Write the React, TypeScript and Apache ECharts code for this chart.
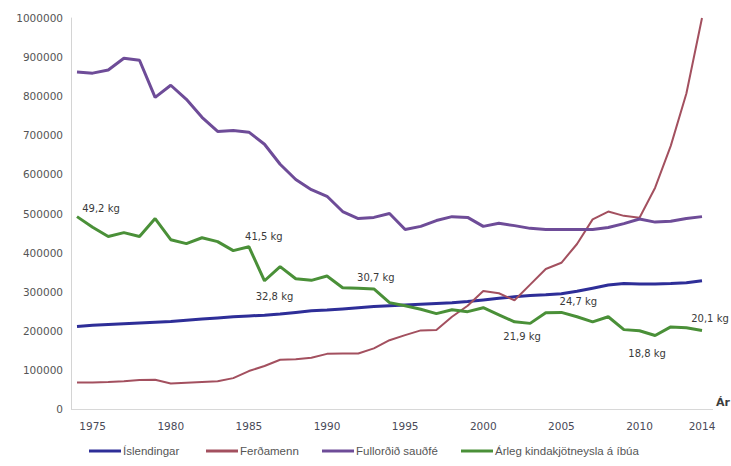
import React, { useEffect, useRef } from "react";
import * as echarts from "echarts";

const years = [
  "1974", "1975", "1976", "1977", "1978", "1979", "1980", "1981", "1982", "1983",
  "1984", "1985", "1986", "1987", "1988", "1989", "1990", "1991", "1992", "1993",
  "1994", "1995", "1996", "1997", "1998", "1999", "2000", "2001", "2002", "2003",
  "2004", "2005", "2006", "2007", "2008", "2009", "2010", "2011", "2012", "2013", "2014",
];

const shownYearLabels = ["1975", "1980", "1985", "1990", "1995", "2000", "2005", "2010", "2014"];

const seriesNames = ["Íslendingar", "Ferðamenn", "Fullorðið sauðfé", "Árleg kindakjötneysla á íbúa"];

const islendingar = [
  211000, 214000, 216000, 218000, 220000, 222000, 224000, 227000, 230000, 233000,
  236000, 238000, 240000, 243000, 247000, 251000, 253000, 256000, 259000, 262000,
  264000, 266000, 268000, 270000, 272000, 275000, 279000, 283000, 287000, 290000,
  292000, 295000, 301000, 309000, 317000, 321000, 320000, 320000, 321000, 323000, 328000,
];

const ferdamenn = [
  68000, 68000, 69000, 71000, 74000, 75000, 65000, 67000, 69000, 71000,
  79000, 97000, 110000, 126000, 127000, 131000, 141000, 142000, 142000, 155000,
  176000, 189000, 201000, 202000, 236000, 264000, 302000, 296000, 278000, 318000,
  358000, 374000, 422000, 485000, 505000, 494000, 489000, 566000, 673000, 807000, 1000000,
];

const saudfe = [
  862000, 859000, 867000, 897000, 892000, 797000, 828000, 792000, 746000, 710000,
  712000, 708000, 677000, 626000, 587000, 561000, 544000, 505000, 487000, 490000,
  500000, 459000, 467000, 482000, 492000, 490000, 467000, 475000, 469000, 462000,
  459000, 459000, 459000, 459000, 464000, 474000, 486000, 478000, 480000, 487000, 492000,
];

const kjotneyslaKg = [
  49.2, 46.5, 44.1, 45.1, 44.1, 48.7, 43.3, 42.3, 43.8, 42.8,
  40.5, 41.5, 32.8, 36.4, 33.3, 32.9, 34.0, 31.0, 30.9, 30.7,
  27.2, 26.4, 25.5, 24.4, 25.4, 24.9, 25.9, 24.1, 22.3, 21.9,
  24.6, 24.7, 23.6, 22.3, 23.6, 20.3, 20.0, 18.8, 21.0, 20.8, 20.1,
];

// kg are drawn on the population axis at 10 000 per kg
const kgScale = 10000;

// which kg points carry a label, and where the label sits relative to the point
const labeledYears = ["1974", "1985", "1986", "1993", "2003", "2005", "2011", "2014"];
const labelOffsets: [number, number][] = [
  [24, -8], [15, -10], [10, 16], [2, -11], [-8, 13], [17, -11], [-8, 18], [8, -12],
];

const colors = ["#2e2e98", "#a3505f", "#6e4c98", "#4a9038"];
const FONT = "DejaVu Sans, sans-serif";
const LEGEND_FONT = "Liberation Sans, Arial, sans-serif";

export default function App() {
  const ref = useRef<HTMLDivElement>(null);

  useEffect(() => {
    if (!ref.current) return;
    const chart = echarts.init(ref.current, undefined, { renderer: "svg" });

    const kgData = kjotneyslaKg.map((kg, i) => {
      const li = labeledYears.indexOf(years[i]);
      const item: any = { value: kg * kgScale };
      if (li >= 0) {
        item.label = {
          show: true,
          position: "inside",
          offset: labelOffsets[li],
          formatter: () => kg.toFixed(1).replace(".", ",") + " kg",
          fontFamily: FONT,
          fontSize: 10,
          color: "#3a3a3a",
        };
      }
      return item;
    });

    const legendLefts = [89, 206, 322, 461];

    const option: any = {
      animation: false,
      backgroundColor: "#ffffff",
      grid: { left: 77, right: 29, top: 18, bottom: 57, containLabel: false },
      legend: seriesNames.map((n, i) => ({
        data: [n],
        left: legendLefts[i],
        top: 445,
        padding: 0,
        icon: "rect",
        itemWidth: 32,
        itemHeight: 3,
        itemGap: 0,
        itemStyle: { color: colors[i], opacity: 1 },
        textStyle: { fontFamily: LEGEND_FONT, fontSize: 11.5, color: "#555555", padding: [0, 0, 0, -3] },
      })),
      xAxis: {
        type: "category",
        data: years,
        boundaryGap: false,
        axisLine: { show: false },
        axisTick: { show: false },
        splitLine: { show: false },
        axisLabel: {
          interval: (_idx: number, val: string) => shownYearLabels.indexOf(val) >= 0,
          fontFamily: FONT,
          fontSize: 10.5,
          color: "#4a4a58",
          margin: 11,
        },
      },
      yAxis: {
        type: "value",
        min: 0,
        max: 1000000,
        interval: 100000,
        offset: 6,
        axisLine: { show: true, lineStyle: { color: "#d4d4d4", width: 1 } },
        axisTick: { show: false },
        splitLine: { show: false },
        axisLabel: {
          formatter: (v: number) => String(v),
          fontFamily: FONT,
          fontSize: 10.5,
          color: "#555555",
          margin: 8,
        },
      },
      series: [
        {
          name: seriesNames[0],
          type: "line",
          data: islendingar,
          showSymbol: false,
          color: colors[0],
          lineStyle: { width: 3, color: colors[0] },
        },
        {
          name: seriesNames[1],
          type: "line",
          data: ferdamenn,
          showSymbol: false,
          color: colors[1],
          lineStyle: { width: 2, color: colors[1] },
        },
        {
          name: seriesNames[2],
          type: "line",
          data: saudfe,
          showSymbol: false,
          color: colors[2],
          lineStyle: { width: 3, color: colors[2] },
        },
        {
          name: seriesNames[3],
          type: "line",
          data: kgData,
          showSymbol: true,
          symbol: "circle",
          symbolSize: 1,
          color: colors[3],
          itemStyle: { color: "rgba(0,0,0,0)", borderWidth: 0 },
          lineStyle: { width: 3, color: colors[3] },
        },
      ],
      graphic: [
        {
          type: "line",
          shape: { x1: 71, y1: 409.5, x2: 713, y2: 409.5 },
          style: { stroke: "#d8d8d8", lineWidth: 1 },
          silent: true,
        },
        {
          type: "text",
          x: 716,
          y: 397,
          style: { text: "Ár", fontFamily: FONT, fontSize: 11, fontWeight: "bold", fill: "#3c3c3c" },
        },
      ],
    };

    chart.setOption(option);
    return () => chart.dispose();
  }, []);

  return (
    <div
      ref={ref}
      style={{ position: "fixed", left: 0, top: 0, width: 731, height: 466, background: "#fff" }}
    />
  );
}
